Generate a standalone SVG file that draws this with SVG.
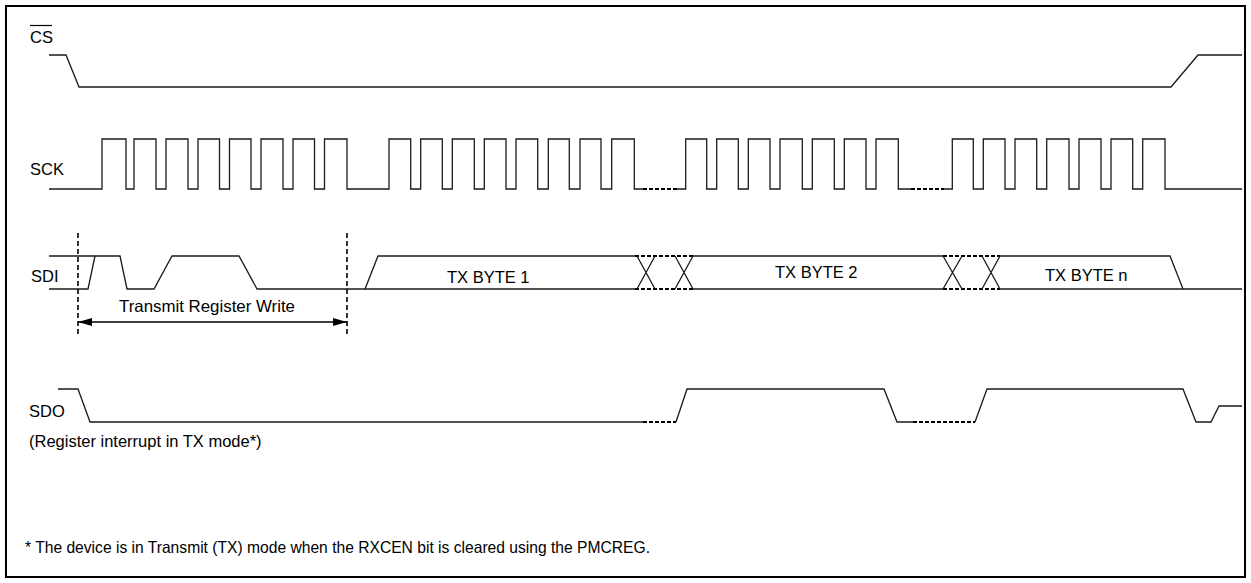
<svg xmlns="http://www.w3.org/2000/svg" width="1251" height="583" viewBox="0 0 1251 583">
<style>
.t{font-family:"Liberation Sans",Arial,sans-serif;font-size:16.5px;fill:#000}
.w{fill:none;stroke:#1a1a1a;stroke-width:1.3;stroke-linejoin:miter}
.d{fill:none;stroke:#000;stroke-width:2;stroke-dasharray:4 2}
.v{fill:none;stroke:#000;stroke-width:1.6;stroke-dasharray:5 3}
</style>
<defs>
<marker id="ah" viewBox="0 0 14 8" refX="14" refY="4" markerWidth="14" markerHeight="8" markerUnits="userSpaceOnUse" orient="auto-start-reverse">
<path d="M0,0 L14,4 L0,8 Z" fill="#000"/>
</marker>
</defs>
<rect x="6" y="6" width="1239" height="571" fill="#fff" stroke="#000" stroke-width="2"/>
<g id="cs">
<text class="t" x="30" y="43">CS</text>
<line x1="30" y1="25.5" x2="52" y2="25.5" stroke="#000" stroke-width="1.2"/>
<path class="w" d="M49,55 H66 L79,87 H1171 L1198,55 H1242"/>
</g>
<g id="sck">
<text class="t" x="30" y="175">SCK</text>
<path class="w" d="M49,189 H102 V139 H126 V189 H134 V139 H156 V189 H166 V139 H188 V189 H198 V139 H219.5 V189 H229.5 V139 H251 V189 H261 V139 H283 V189 H293 V139 H314.5 V189 H324.5 V139 H347 V189 H389 V139 H410.7 V189 H420.7 V139 H442.3 V189 H452.3 V139 H474.3 V189 H484.3 V139 H506 V189 H516 V139 H537.7 V189 H548.3 V139 H569.3 V189 H580 V139 H601 V189 H611.7 V139 H634.3 V189 H643"/>
<path class="d" d="M643,189 H677"/>
<path class="w" d="M677,189 H685.7 V139 H706.7 V189 H716.7 V139 H738.3 V189 H748.3 V139 H770 V189 H780 V139 H802.3 V189 H812.3 V139 H834.3 V189 H844.3 V139 H866 V189 H876 V139 H898.3 V189 H911"/>
<path class="d" d="M911,189 H944"/>
<path class="w" d="M944,189 H952.3 V139 H973.3 V189 H983.3 V139 H1005 V189 H1015 V139 H1036.7 V189 H1046.7 V139 H1069 V189 H1079 V139 H1101 V189 H1111 V139 H1132.7 V189 H1142.7 V139 H1165 V189 H1242"/>
</g>
<g id="sdi">
<text class="t" x="31" y="282">SDI</text>
<path class="w" d="M49,256 H120 L127,289 H154 L172,256 H239 L257,289 H365 L378,256 H635"/>
<path class="w" d="M49,289 H88 L95,256"/>
<path class="w" d="M365,289 H635"/>
<path class="d" d="M635,256 H693 M635,289 H693"/>
<path class="w" d="M637,256 L655,289 M637,289 L655,256 M675,256 L693,289 M675,289 L693,256"/>
<path class="w" d="M693,256 H943 M693,289 H943"/>
<path class="d" d="M943,256 H1000 M943,289 H1000"/>
<path class="w" d="M943,256 L962,289 M943,289 L962,256 M982,256 L1000,289 M982,289 L1000,256"/>
<path class="w" d="M1000,256 H1170 L1183,289 M1000,289 H1242"/>
<text class="t" x="447" y="283">TX BYTE 1</text>
<text class="t" x="775" y="278">TX BYTE 2</text>
<text class="t" x="1045" y="281">TX BYTE n</text>
</g>
<g id="transmit-register-write">
<path class="v" d="M78,233 V336 M347,233 V336"/>
<text class="t" x="119" y="312" textLength="176" lengthAdjust="spacingAndGlyphs">Transmit Register Write</text>
</g>
<g id="sdo">
<text class="t" x="29" y="417">SDO</text>
<path class="w" d="M58,389 H78 L90,422 H643"/>
<path class="d" d="M643,422 H676"/>
<path class="w" d="M676,422 L687,389 H884 L897,422 H913"/>
<path class="d" d="M913,422 H975"/>
<path class="w" d="M975,422 L987,389 H1183 L1196,422 H1211 L1219,406 H1242"/>
<text class="t" x="29" y="447">(Register interrupt in TX mode*)</text>
</g>
<g id="note">
<text class="t" x="25" y="553" textLength="625" lengthAdjust="spacingAndGlyphs">* The device is in Transmit (TX) mode when the RXCEN bit is cleared using the PMCREG.</text>
</g>
<g id="connectors">
<line x1="78" y1="322" x2="347" y2="322" stroke="#000" stroke-width="1.3" marker-start="url(#ah)" marker-end="url(#ah)"/>
</g>
</svg>
